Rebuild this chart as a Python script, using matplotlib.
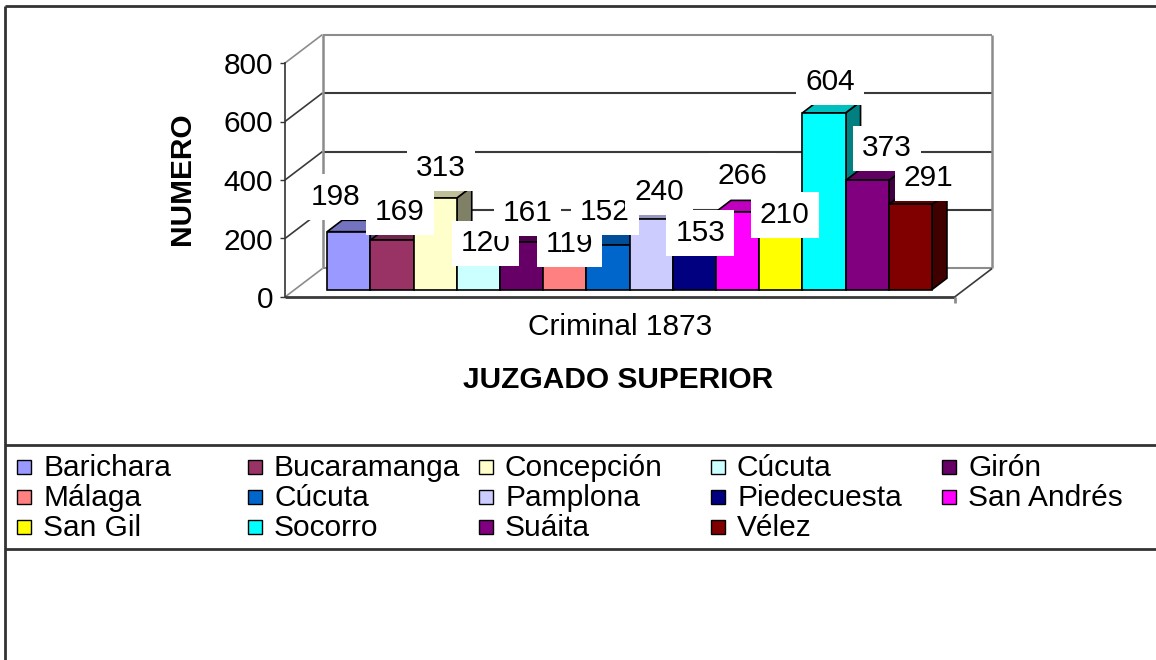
import numpy as np
import matplotlib
matplotlib.use("Agg")
import matplotlib.pyplot as plt
from matplotlib.patches import Polygon, Rectangle
from matplotlib.colors import to_rgb

plt.rcParams['font.family'] = ['Liberation Sans', 'DejaVu Sans']

places = ['Barichara', 'Bucaramanga', 'Concepción', 'Cúcuta', 'Girón',
          'Málaga', 'Cúcuta', 'Pamplona', 'Piedecuesta', 'San Andrés',
          'San Gil', 'Socorro', 'Suáita', 'Vélez']
counts = [198, 169, 313, 120, 161, 119, 152, 240, 153, 266, 210, 604, 373, 291]
colors = ['#9999FF', '#993366', '#FFFFCC', '#CCFFFF', '#660066',
          '#FF8080', '#0066CC', '#CCCCFF', '#000080', '#FF00FF',
          '#FFFF00', '#00FFFF', '#800080', '#800000']
yticks = [0, 200, 400, 600, 800]
category = 'Criminal 1873'

# nudges of the value labels (px right, px up) from the top of each bar front
lab_dx = [-13, 8, 6, 7, 6, 5, -3, 8, 6, 5, 4, 6, 20, 18]
lab_dy = [35, 28, 30, 11, 29, 11, 33, 27, 12, 36, 13, 31, 32, 26]

W, H = 1156, 660
PXX = 43.2      # px per bar width
PXY = 0.2925    # px per unit
FW = 15.5       # floor width in bar units
DX = 37.5 / PXX  # depth of the box
DY = 28.5 / PXY
d0, d1 = 0.26, 0.66
FS = 21.5

fig = plt.figure(figsize=(W / 100, H / 100), dpi=100)

# overlay in pixel coords for the frame and legend
ov = fig.add_axes([0, 0, 1, 1])
ov.set_xlim(0, W)
ov.set_ylim(H, 0)
ov.axis('off')

fr = dict(color='#333333', lw=2, solid_capstyle='butt')
ov.plot([5, 5], [6, H], **fr)
ov.plot([5, W], [6, 6], **fr)
ov.plot([5, W], [445, 445], **fr)
ov.plot([5, W], [549, 549], **fr)

# legend, 5 columns, row-major
col_x = [17, 248, 479, 711, 942]
row_y = [467, 497, 527]
for k, (name, c) in enumerate(zip(places, colors)):
    cx = col_x[k % 5]
    ry = row_y[k // 5]
    ov.add_patch(Rectangle((cx, ry - 7), 14, 14, facecolor=c,
                           edgecolor='black', lw=1))
    ov.text(cx + 26, ry + 1, name, fontsize=FS, ha='left', va='center')

ov.text(182, 179, 'NUMERO', fontsize=FS, fontweight='bold', rotation=90,
        ha='center', va='center')
ov.text(618, 388, 'JUZGADO SUPERIOR', fontsize=FS, fontweight='bold',
        ha='center', va='baseline')

# main axes: x in bar widths, y in counts
x_lo, x_hi = -1, 17
y_lo, y_hi = -60, 940
px_left = 285 + x_lo * PXX
px_bot = 297 - y_lo * PXY
ax = fig.add_axes([px_left / W, (H - px_bot) / H,
                   (x_hi - x_lo) * PXX / W, (y_hi - y_lo) * PXY / H])
ax.set_xlim(x_lo, x_hi)
ax.set_ylim(y_lo, y_hi)
ax.patch.set_visible(False)
for s in ['top', 'right', 'bottom']:
    ax.spines[s].set_visible(False)
ax.spines['left'].set_position(('data', 0))
ax.spines['left'].set_bounds(0, 800)
ax.spines['left'].set_color('#333333')
ax.spines['left'].set_linewidth(1.2)
ax.set_xticks([])
ax.set_yticks(yticks)
ax.tick_params(axis='y', length=3.6, width=1, color='#333333',
               labelsize=FS, pad=5)

gray = '#8c8c8c'
dark = '#3a3a3a'
kw = dict(clip_on=False, solid_capstyle='butt')
# walls
for v in yticks:
    c = gray if v in (0, 800) else dark
    ax.plot([0, DX], [v, v + DY], color=c, lw=1.2, zorder=1, **kw)
    ax.plot([DX, FW + DX], [v + DY, v + DY], color=c if v else gray,
            lw=1.5, zorder=1, **kw)
ax.plot([DX, DX], [DY, 800 + DY], color=gray, lw=1.8, zorder=1, **kw)
ax.plot([FW + DX, FW + DX], [DY, 800 + DY], color=gray, lw=1.8, zorder=1, **kw)
# floor
ax.plot([0, FW], [0, 0], color=dark, lw=2, zorder=1, **kw)
ax.plot([FW, FW + DX], [0, DY], color=dark, lw=1.2, zorder=1, **kw)
ax.plot([FW, FW], [0, -20], color=gray, lw=2, zorder=1, **kw)

# bars with top and side faces
dd = d1 - d0
for i, (v, c) in enumerate(zip(counts, colors)):
    x0 = 0.75 + i + d0 * DX
    y0 = d0 * DY
    rgb = np.array(to_rgb(c))
    z = 3 + i * 0.1
    side = [(x0 + 1, y0), (x0 + 1 + dd * DX, y0 + dd * DY),
            (x0 + 1 + dd * DX, y0 + v + dd * DY), (x0 + 1, y0 + v)]
    top = [(x0, y0 + v), (x0 + 1, y0 + v),
           (x0 + 1 + dd * DX, y0 + v + dd * DY), (x0 + dd * DX, y0 + v + dd * DY)]
    ax.add_patch(Polygon(side, closed=True, facecolor=rgb * 0.5,
                         edgecolor='black', lw=1.2, zorder=z, clip_on=False))
    ax.add_patch(Polygon(top, closed=True, facecolor=rgb * 0.75,
                         edgecolor='black', lw=1.2, zorder=z, clip_on=False))
    ax.bar(x0, v, width=1, bottom=y0, align='edge', color=c,
           edgecolor='black', lw=1.2, zorder=z + 0.05)
    ax.annotate(str(v), xy=(x0 + 0.5, y0 + v),
                xytext=(lab_dx[i] * 0.72, lab_dy[i] * 0.72),
                textcoords='offset points', ha='center', va='center',
                fontsize=FS, zorder=10,
                bbox=dict(boxstyle='square,pad=0.3', facecolor='white',
                          edgecolor='none'))

ax.annotate(category, xy=(FW / 2, 0), xytext=(0, -38 * 0.72),
            textcoords='offset points', ha='center', va='baseline',
            fontsize=FS)

fig.savefig('out.png', dpi=100)
